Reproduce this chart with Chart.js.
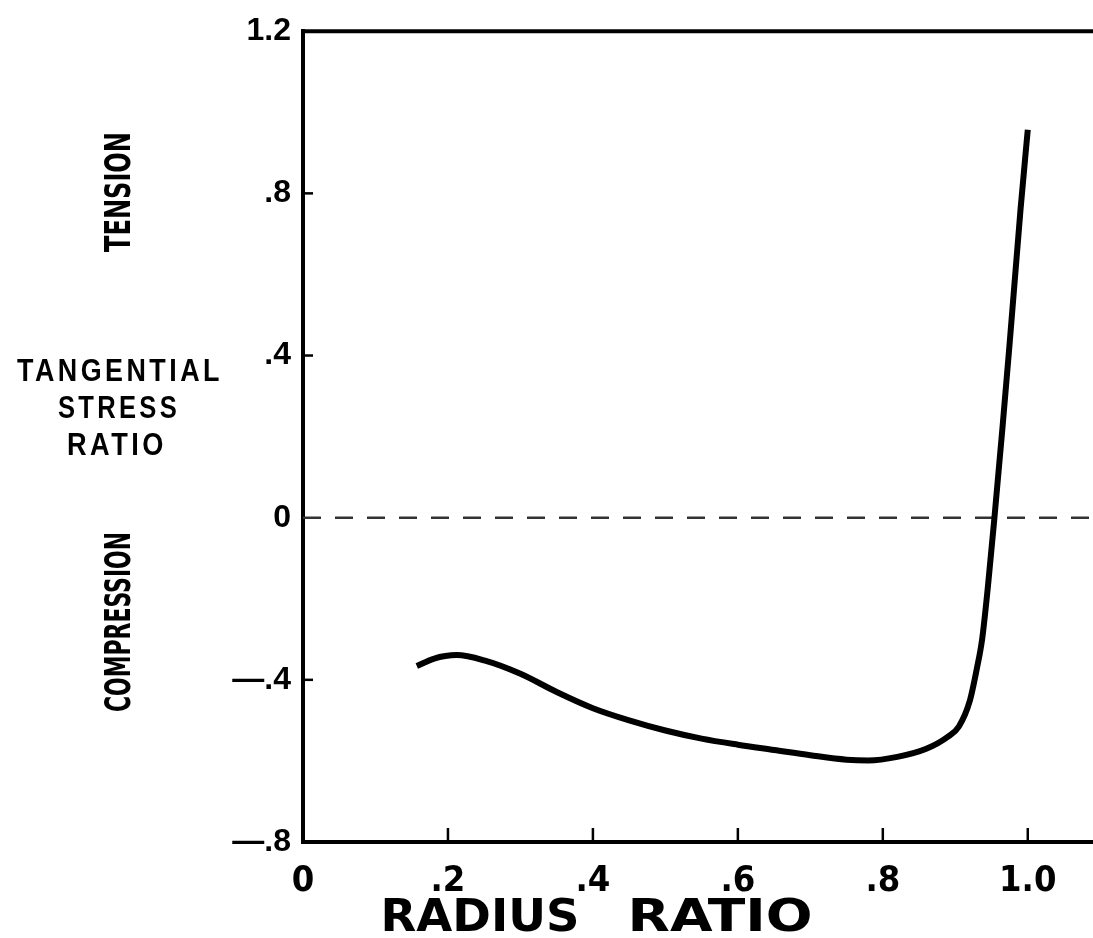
<!DOCTYPE html>
<html>
<head>
<meta charset="utf-8">
<script src="https://cdn.jsdelivr.net/npm/chart.js@4.4.1/dist/chart.umd.min.js"></script>
<style>
  html, body { margin: 0; padding: 0; background: #fff; }
  #wrap { width: 1093px; height: 938px; }
</style>
</head>
<body>
<div id="wrap"><canvas id="stressChart"></canvas></div>
<script>
// radius ratio vs tangential stress ratio
const radiusRatio = [0.157, 0.18, 0.212, 0.25, 0.30, 0.35, 0.40, 0.45, 0.50, 0.55, 0.60, 0.65, 0.70, 0.75, 0.78, 0.82, 0.86, 0.89, 0.905, 0.92, 0.93, 0.937, 0.945, 0.954, 0.965, 0.975, 0.99, 1.0];
const stressRatio = [-0.366, -0.348, -0.339, -0.352, -0.385, -0.43, -0.47, -0.50, -0.525, -0.545, -0.56, -0.573, -0.586, -0.597, -0.599, -0.59, -0.57, -0.54, -0.515, -0.452, -0.37, -0.30, -0.17, 0, 0.22, 0.43, 0.76, 0.957];

const xTicks = [0, 0.2, 0.4, 0.6, 0.8, 1.0];
const xTickLabels = ["0", ".2", ".4", ".6", ".8", "1.0"];
const yTicks = [-0.8, -0.4, 0, 0.4, 0.8, 1.2];
const yTickLabels = ["\u2014.8", "\u2014.4", "0", ".4", ".8", "1.2"];
const zeroLine = [0, 1.09];

const narrow = '"Liberation Sans Narrow", "DejaVu Sans Condensed", sans-serif';

// draw text squeezed/stretched to a given width
function fitText(ctx, text, cx, cy, width, font, rotate) {
    ctx.save();
    ctx.font = font;
    const w = ctx.measureText(text).width;
    ctx.translate(cx, cy);
    if (rotate) ctx.rotate(-Math.PI / 2);
    ctx.scale(width / w, 1);
    ctx.fillText(text, 0, 0);
    ctx.restore();
}

// inside tick marks, top frame line and the side captions
const extras = {
    id: "extras",
    afterDraw(chart) {
        const ctx = chart.ctx;
        const xs = chart.scales.x, ys = chart.scales.y;
        const a = chart.chartArea;
        ctx.save();
        ctx.strokeStyle = "#000";
        ctx.lineWidth = 2.5;
        xTicks.slice(1).forEach(v => {
            const px = xs.getPixelForValue(v);
            ctx.beginPath();
            ctx.moveTo(px, a.bottom);
            ctx.lineTo(px, a.bottom - 14);
            ctx.stroke();
        });
        [0.8, 0.4, -0.4].forEach(v => {
            const py = ys.getPixelForValue(v);
            ctx.beginPath();
            ctx.moveTo(a.left, py);
            ctx.lineTo(a.left + 10, py);
            ctx.stroke();
        });
        ctx.lineWidth = 4;
        ctx.beginPath();
        ctx.moveTo(a.left - 2, a.top);
        ctx.lineTo(a.right, a.top);
        ctx.stroke();

        ctx.fillStyle = "#000";
        ctx.textAlign = "center";
        ctx.textBaseline = "middle";
        const bold = 'bold 36px "DejaVu Sans Condensed", sans-serif';
        fitText(ctx, "TENSION", 121, 192, 120, bold, true);
        fitText(ctx, "COMPRESSION", 121, 622, 180, bold, true);
        ctx.letterSpacing = "4px";
        const wide = 'bold 31px "Liberation Sans", Arial, sans-serif';
        fitText(ctx, "TANGENTIAL", 120, 372, 206, wide, false);
        fitText(ctx, "STRESS", 119, 409, 122, wide, false);
        fitText(ctx, "RATIO", 117, 446, 100, wide, false);
        ctx.letterSpacing = "0px";
        ctx.textBaseline = "alphabetic";
        const title = 'bold 45px "DejaVu Sans Condensed", sans-serif';
        fitText(ctx, "RADIUS", 480, 931, 199, title, false);
        fitText(ctx, "RATIO", 720, 931, 185, title, false);
        ctx.restore();
    }
};

new Chart(document.getElementById("stressChart"), {
    type: "line",
    data: {
        datasets: [{
            data: radiusRatio.map((x, i) => ({ x: x, y: stressRatio[i] })),
            borderColor: "#000",
            borderWidth: 6,
            pointRadius: 0,
            cubicInterpolationMode: "monotone",
            fill: false
        }, {
            data: zeroLine.map(x => ({ x: x, y: 0 })),
            borderColor: "#333",
            borderWidth: 2.5,
            borderDash: [18, 14],
            pointRadius: 0,
            fill: false
        }]
    },
    options: {
        responsive: true,
        maintainAspectRatio: false,
        animation: false,
        layout: { padding: { top: 27, right: 0, left: 0, bottom: 0 } },
        plugins: { legend: { display: false }, tooltip: { enabled: false } },
        scales: {
            x: {
                type: "linear",
                min: 0,
                max: 1.09,
                afterBuildTicks: s => { s.ticks = xTicks.map(v => ({ value: v })); },
                afterFit: s => { s.height = 96; },
                grid: { display: false, drawTicks: false },
                border: { color: "#000", width: 4 },
                ticks: {
                    color: "#000",
                    padding: 18,
                    font: { family: narrow, size: 36, weight: "bold" },
                    callback: (v) => xTickLabels[xTicks.findIndex(t => Math.abs(t - v) < 1e-6)]
                }
            },
            y: {
                type: "linear",
                min: -0.8,
                max: 1.2,
                afterBuildTicks: s => { s.ticks = yTicks.map(v => ({ value: v })); },
                afterFit: s => { s.width = 303; },
                grid: { display: false, drawTicks: false },
                border: { color: "#000", width: 4 },
                ticks: {
                    color: "#000",
                    padding: 12,
                    font: { family: '"Liberation Sans", Arial, sans-serif', size: 32, weight: "bold" },
                    callback: (v) => yTickLabels[yTicks.findIndex(t => Math.abs(t - v) < 1e-6)]
                }
            }
        }
    },
    plugins: [extras]
});
</script>
</body>
</html>
